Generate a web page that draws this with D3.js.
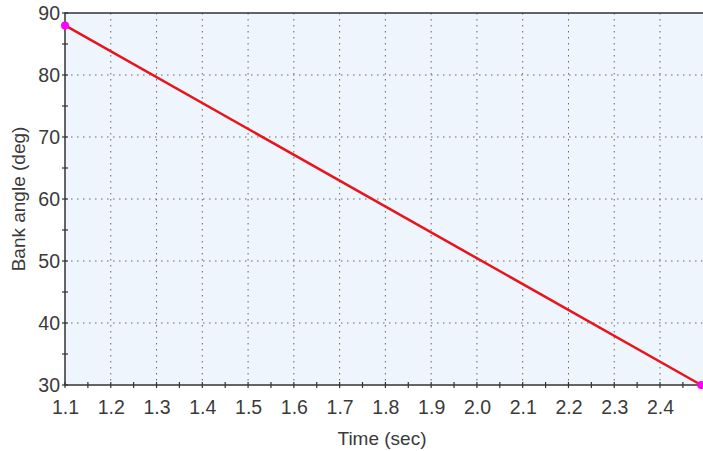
<!DOCTYPE html>
<html lang="en">
<head>
    <meta charset="UTF-8">
    <title>Bank angle vs time</title>
    <style>
        body {
            margin: 0;
            background-color: white;
        }
        .tick text {
            font-family: "Liberation Sans", Arial, sans-serif;
            font-size: 19.5px;
            fill: #3a3a3a;
        }
        .grid line {
            stroke: #666;
            stroke-dasharray: 1.5 4.5;
        }
        .axis-title {
            font-family: "Liberation Sans", Arial, sans-serif;
            font-size: 19px;
            fill: #3a3a3a;
        }
    </style>
    <script src="https://d3js.org/d3.v7.min.js"></script>
</head>
<body>
<script>
    // data
    const times = [1.1, 2.49];
    const angles = [88, 30];
    const xTicks = [1.1, 1.2, 1.3, 1.4, 1.5, 1.6, 1.7, 1.8, 1.9, 2.0, 2.1, 2.2, 2.3, 2.4];
    const yTicks = [30, 40, 50, 60, 70, 80, 90];

    const width = 703;
    const height = 451;
    const plotLeft = 65, plotTop = 13, plotBottom = 385;

    const svg = d3.select("body")
                  .append("svg")
                  .attr("width", width)
                  .attr("height", height);

    const x = d3.scaleLinear().domain([1.1, 2.5]).range([plotLeft, plotLeft + 14 * 45.77]);
    const y = d3.scaleLinear().domain([30, 90]).range([plotBottom, plotTop]);

    // plot background
    svg.append("rect")
       .attr("x", plotLeft).attr("y", plotTop)
       .attr("width", x(2.5) - plotLeft).attr("height", plotBottom - plotTop)
       .attr("fill", "#eef5fc");

    // dotted grid
    svg.append("g").attr("class", "grid")
       .selectAll("line")
       .data(xTicks.slice(1))
       .enter().append("line")
       .attr("x1", d => x(d)).attr("x2", d => x(d))
       .attr("y1", plotTop).attr("y2", plotBottom);

    svg.append("g").attr("class", "grid")
       .selectAll("line")
       .data(yTicks.slice(1, -1))
       .enter().append("line")
       .attr("x1", plotLeft).attr("x2", x(2.5))
       .attr("y1", d => y(d)).attr("y2", d => y(d));

    // minor ticks crossing the axes
    const xMinor = xTicks.map(d => d + 0.05);
    const yMinor = yTicks.slice(0, -1).map(d => d + 5);

    svg.append("g").selectAll("line")
       .data(xTicks.concat(xMinor))
       .enter().append("line")
       .attr("x1", d => x(d)).attr("x2", d => x(d))
       .attr("y1", plotBottom - 3).attr("y2", plotBottom + 3)
       .attr("stroke", "#333").attr("stroke-width", 1.2);

    svg.append("g").selectAll("line")
       .data(yTicks.concat(yMinor))
       .enter().append("line")
       .attr("x1", plotLeft - 3).attr("x2", plotLeft + 3)
       .attr("y1", d => y(d)).attr("y2", d => y(d))
       .attr("stroke", "#333").attr("stroke-width", 1.2);

    // axes
    const xAxis = d3.axisBottom(x).tickValues(xTicks).tickFormat(d3.format(".1f")).tickSize(0).tickPadding(15);
    const yAxis = d3.axisLeft(y).tickValues(yTicks).tickSize(0).tickPadding(5);

    svg.append("g")
       .attr("transform", `translate(0,${plotBottom})`)
       .call(xAxis)
       .call(g => g.select(".domain").remove());

    svg.append("g")
       .attr("transform", `translate(${plotLeft},0)`)
       .call(yAxis)
       .call(g => g.select(".domain").remove());

    // frame
    svg.append("rect")
       .attr("x", plotLeft).attr("y", plotTop)
       .attr("width", x(2.5) - plotLeft).attr("height", plotBottom - plotTop)
       .attr("fill", "none")
       .attr("stroke", "#333").attr("stroke-width", 1.5);

    // line
    const points = times.map((t, i) => [t, angles[i]]);
    svg.append("path")
       .datum(points)
       .attr("fill", "none")
       .attr("stroke", "#e8141c")
       .attr("stroke-width", 2.5)
       .attr("d", d3.line().x(d => x(d[0])).y(d => y(d[1])));

    svg.selectAll(".end")
       .data(points)
       .enter().append("circle")
       .attr("class", "end")
       .attr("cx", d => x(d[0])).attr("cy", d => y(d[1]))
       .attr("r", 4)
       .attr("fill", "#ff00ff");

    // titles
    svg.append("text")
       .attr("class", "axis-title")
       .attr("text-anchor", "middle")
       .attr("x", 382).attr("y", 445)
       .text("Time (sec)");

    svg.append("text")
       .attr("class", "axis-title")
       .attr("text-anchor", "middle")
       .attr("transform", `translate(25,${(plotTop + plotBottom) / 2}) rotate(-90)`)
       .text("Bank angle (deg)");
</script>
</body>
</html>
